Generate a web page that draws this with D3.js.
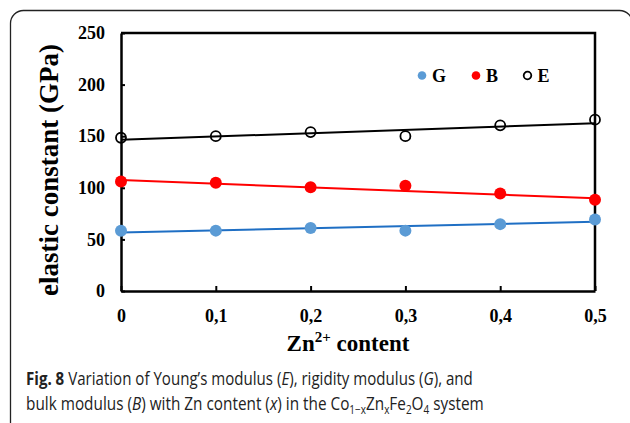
<!DOCTYPE html>
<html>
<head>
<meta charset="utf-8">
<script src="https://cdn.jsdelivr.net/npm/d3@7/dist/d3.min.js"></script>
<style>
  body { margin: 0; background: #fff; }
  svg { display: block; }
</style>
</head>
<body>
<div id="chart"></div>
<script>
// Zn content (x)
const xValues = [0, 0.1, 0.2, 0.3, 0.4, 0.5];
const xTickLabels = ['0', '0,1', '0,2', '0,3', '0,4', '0,5'];
const yTicks = [0, 50, 100, 150, 200, 250];

// elastic constants (GPa)
const gValues = [58.3, 58.5, 61, 58.5, 64.8, 69.3];
const bValues = [106, 105, 100.5, 102, 94.5, 88.5];
const eValues = [148.5, 150, 154, 150, 160.5, 166];

// linear trend lines (start, end)
const gTrend = [56.6, 67];
const bTrend = [107.5, 89.8];
const eTrend = [146.5, 162.5];

const seriesNames = ['G', 'B', 'E'];

const width = 630, height = 423;
const margin = { top: 33, right: 35, bottom: 132, left: 121 };
const innerW = width - margin.left - margin.right;
const innerH = height - margin.top - margin.bottom;

const svg = d3.select('#chart').append('svg')
  .attr('width', width)
  .attr('height', height);

// outer frame (runs off the bottom and right edges)
svg.append('rect')
  .attr('x', 10.5).attr('y', 10.5)
  .attr('width', 622).attr('height', 425)
  .attr('rx', 13)
  .attr('fill', 'none')
  .attr('stroke', '#222')
  .attr('stroke-width', 1.3);

const chart = svg.append('g')
  .attr('transform', `translate(${margin.left},${margin.top})`);

const xScale = d3.scaleLinear().domain([0, 0.5]).range([0, innerW]);
const yScale = d3.scaleLinear().domain([0, 250]).range([innerH, 0]);

// plot border (top and right)
chart.append('path')
  .attr('d', `M0,0H${innerW}V${innerH}`)
  .attr('fill', 'none')
  .attr('stroke', '#000')
  .attr('stroke-width', 2.5);

const serif = '"Times New Roman", "Liberation Serif", serif';

// axes
const xAxis = d3.axisBottom(xScale)
  .tickValues(xValues)
  .tickSize(-5)
  .tickSizeOuter(0)
  .tickPadding(18)
  .tickFormat((d, i) => xTickLabels[i]);

const yAxis = d3.axisLeft(yScale)
  .tickValues(yTicks)
  .tickSize(-4)
  .tickSizeOuter(0)
  .tickPadding(17);

const xAxisG = chart.append('g')
  .attr('transform', `translate(0,${innerH})`)
  .call(xAxis);
const yAxisG = chart.append('g').call(yAxis);

[xAxisG, yAxisG].forEach(g => {
  g.select('.domain').attr('stroke', '#000').attr('stroke-width', 2.5);
  g.selectAll('.tick line').attr('stroke', '#000').attr('stroke-width', 2);
  g.selectAll('.tick text')
    .attr('fill', '#000')
    .style('font-family', serif)
    .style('font-weight', 'bold')
    .style('font-size', '18px');
});
yAxisG.selectAll('.tick text').attr('x', -16);

// trend lines
const trends = [
  { vals: gTrend, color: '#1f6fc4' },
  { vals: bTrend, color: '#ff0000' },
  { vals: eTrend, color: '#000' }
];
trends.forEach(t => {
  chart.append('line')
    .attr('x1', xScale(0)).attr('y1', yScale(t.vals[0]))
    .attr('x2', xScale(0.5)).attr('y2', yScale(t.vals[1]))
    .attr('stroke', t.color)
    .attr('stroke-width', 2);
});

// points
chart.selectAll('.g-pt')
  .data(gValues)
  .join('circle')
  .attr('class', 'g-pt')
  .attr('cx', (d, i) => xScale(xValues[i]))
  .attr('cy', d => yScale(d))
  .attr('r', 6)
  .attr('fill', '#5b9bd5');

chart.selectAll('.b-pt')
  .data(bValues)
  .join('circle')
  .attr('class', 'b-pt')
  .attr('cx', (d, i) => xScale(xValues[i]))
  .attr('cy', d => yScale(d))
  .attr('r', 6)
  .attr('fill', '#ff0000');

chart.selectAll('.e-pt')
  .data(eValues)
  .join('circle')
  .attr('class', 'e-pt')
  .attr('cx', (d, i) => xScale(xValues[i]))
  .attr('cy', d => yScale(d))
  .attr('r', 5)
  .attr('fill', 'none')
  .attr('stroke', '#000')
  .attr('stroke-width', 1.8);

// legend
const legend = svg.append('g').attr('transform', 'translate(422,75.5)');
const legendItems = [
  { name: seriesNames[0], dx: 0, fill: '#5b9bd5', stroke: 'none' },
  { name: seriesNames[1], dx: 54, fill: '#ff0000', stroke: 'none' },
  { name: seriesNames[2], dx: 105.5, fill: 'none', stroke: '#000' }
];
legendItems.forEach(it => {
  legend.append('circle')
    .attr('cx', it.dx).attr('cy', 0)
    .attr('r', it.stroke === 'none' ? 4.3 : 3.8)
    .attr('fill', it.fill)
    .attr('stroke', it.stroke)
    .attr('stroke-width', 1.8);
  legend.append('text')
    .attr('x', it.dx + 10).attr('y', 6)
    .style('font-family', serif)
    .style('font-weight', 'bold')
    .style('font-size', '18px')
    .text(it.name);
});

// axis titles
svg.append('text')
  .attr('transform', 'translate(58,170) rotate(-90)')
  .attr('text-anchor', 'middle')
  .style('font-family', serif)
  .style('font-weight', 'bold')
  .style('font-size', '27px')
  .text('elastic constant (GPa)');

const xTitle = svg.append('text')
  .attr('x', 348).attr('y', 351)
  .attr('text-anchor', 'middle')
  .style('font-family', serif)
  .style('font-weight', 'bold')
  .style('font-size', '23px');
xTitle.append('tspan').text('Zn');
xTitle.append('tspan').attr('dy', -9).style('font-size', '15px').text('2+');
xTitle.append('tspan').attr('dy', 9).text(' content');

// caption
const sans = '"Open Sans", "Noto Sans", sans-serif';
function captionLine(y, targetW, build) {
  const g = svg.append('g');
  const t = g.append('text')
    .attr('x', 0).attr('y', 0)
    .style('font-family', sans)
    .style('font-size', '18.5px')
    .attr('fill', '#222');
  build(t);
  const w = t.node().getComputedTextLength();
  g.attr('transform', `translate(26,${y}) scale(${targetW / w},1)`);
}

captionLine(384.5, 447, t => {
  t.append('tspan').style('font-weight', 'bold').text('Fig. 8');
  t.append('tspan').text(' Variation of Young\u2019s modulus (');
  t.append('tspan').style('font-style', 'italic').text('E');
  t.append('tspan').text('), rigidity modulus (');
  t.append('tspan').style('font-style', 'italic').text('G');
  t.append('tspan').text('), and');
});

captionLine(409.5, 458, t => {
  t.append('tspan').text('bulk modulus (');
  t.append('tspan').style('font-style', 'italic').text('B');
  t.append('tspan').text(') with Zn content (');
  t.append('tspan').style('font-style', 'italic').text('x');
  t.append('tspan').text(') in the Co');
  t.append('tspan').attr('dy', 4).style('font-size', '12px').text('1\u2212x');
  t.append('tspan').attr('dy', -4).text('Zn');
  t.append('tspan').attr('dy', 4).style('font-size', '12px').text('x');
  t.append('tspan').attr('dy', -4).text('Fe');
  t.append('tspan').attr('dy', 4).style('font-size', '12px').text('2');
  t.append('tspan').attr('dy', -4).text('O');
  t.append('tspan').attr('dy', 4).style('font-size', '12px').text('4');
  t.append('tspan').attr('dy', -4).text(' system');
});
</script>
</body>
</html>
